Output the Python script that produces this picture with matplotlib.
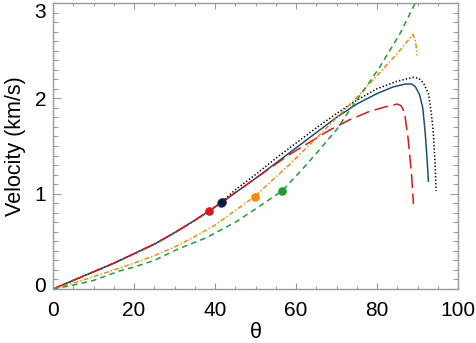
import matplotlib
matplotlib.use("Agg")
import matplotlib.pyplot as plt
import matplotlib.transforms as mtransforms
from matplotlib.ticker import MultipleLocator

plt.rcParams['font.family'] = ['Liberation Sans', 'DejaVu Sans']
plt.rcParams['lines.scale_dashes'] = False

# ---- data ----
common_x = [0, 5, 10, 15, 20, 25, 30, 35, 38.6]
common_y = [0, 0.09, 0.18, 0.27, 0.37, 0.47, 0.59, 0.72, 0.82]

blue_x = [38.6, 41.6, 45, 50, 55, 60, 65, 70, 75, 80, 84, 87, 88.6, 89.5, 90.5, 91.3, 91.9, 92.3, 92.7]
blue_y = [0.82, 0.905, 1.01, 1.16, 1.32, 1.48, 1.64, 1.80, 1.94, 2.05, 2.12, 2.15, 2.15, 2.12, 2.04, 1.90, 1.64, 1.40, 1.13]

black_x = [38.6, 41.6, 45, 50, 55, 60, 65, 70, 75, 80, 85, 89, 90.3, 91.5, 92.7, 93.4, 93.9, 94.3, 94.6]
black_y = [0.82, 0.91, 1.04, 1.20, 1.37, 1.53, 1.69, 1.84, 1.98, 2.10, 2.18, 2.22, 2.21, 2.16, 2.05, 1.85, 1.64, 1.35, 1.03]

red_x = [38.6, 42, 46, 51, 55, 58, 63, 68, 73, 78, 82, 85, 86, 86.8, 87.7, 88.5, 89.0]
red_y = [0.82, 0.92, 1.04, 1.19, 1.31, 1.40, 1.53, 1.66, 1.77, 1.86, 1.91, 1.94, 1.92, 1.85, 1.57, 1.22, 0.89]

orange_x = [0, 5, 10, 16.5, 20, 25, 30, 35, 40, 45.4, 49.8, 58.5, 65.9, 74.1, 80.7, 85, 88.9, 89.5, 89.9]
orange_y = [0, 0.06, 0.13, 0.22, 0.27, 0.35, 0.44, 0.55, 0.67, 0.836, 0.97, 1.31, 1.62, 1.97, 2.27, 2.47, 2.67, 2.60, 2.45]

green_x = [0, 5, 10, 16.5, 20, 25, 30.9, 38, 45.4, 50, 56.6, 61, 66, 70, 73.3, 77, 80.7, 85.7, 89.8, 90.3]
green_y = [0, 0.04, 0.09, 0.19, 0.23, 0.30, 0.42, 0.54, 0.71, 0.84, 1.03, 1.23, 1.47, 1.67, 1.88, 2.10, 2.33, 2.68, 3.03, 3.07]

dot_x = [38.6, 41.6, 41.7, 49.8, 56.6]
dot_y = [0.82, 0.905, 0.91, 0.97, 1.03]

c_blue = '#1d4e7c'
c_black = '#000000'
c_red = '#d7191c'
c_orange = '#ef8c0e'
c_green = '#1f9e32'
dot_colors = [c_red, c_blue, '#0a1f33', c_orange, c_green]

fig = plt.figure(figsize=(4.76, 3.43), dpi=100)
ax = fig.add_axes([53/476, 1 - 289/343, (458-53)/476, (289-3)/343])

lw = 1.1
ax.plot(common_x + black_x[1:], common_y + black_y[1:], color=c_black, lw=lw, dashes=(1.0, 1.5))
ax.plot(common_x + blue_x[1:], common_y + blue_y[1:], color=c_blue, lw=lw)
ax.plot(common_x + red_x[1:], common_y + red_y[1:], color=c_red, lw=lw, dashes=(10, 4))
ax.plot(orange_x, orange_y, color=c_orange, lw=lw, dashes=(3.5, 1.6, 1.0, 1.6))
ax.plot(green_x, green_y, color=c_green, lw=lw, dashes=(4, 3))

for x, y, c in zip(dot_x, dot_y, dot_colors):
    ax.plot([x], [y], 'o', color=c, ms=5.2, zorder=5)

ax.set_xlim(0, 100)
ax.set_ylim(0, 3)
ax.xaxis.set_major_locator(MultipleLocator(20))
ax.xaxis.set_minor_locator(MultipleLocator(5))
ax.yaxis.set_major_locator(MultipleLocator(1))
ax.yaxis.set_minor_locator(MultipleLocator(0.1))

gray = '#9a9a9a'
for s in ax.spines.values():
    s.set_color(gray)
    s.set_linewidth(1.0)
ax.tick_params(which='both', direction='in', top=True, right=True, color=gray, width=0.8,
               labelsize=15, labelcolor='black')
ax.tick_params(axis='x', which='major', length=4.3, pad=9)
ax.tick_params(axis='x', which='minor', length=2.0)
ax.tick_params(axis='y', which='major', length=6, pad=5)
ax.tick_params(axis='y', which='minor', length=3.4)

ax.set_xlabel('θ', fontsize=15.5, labelpad=1)
ax.set_ylabel('Velocity (km/s)', fontsize=15.5, labelpad=6)

# nudge end y-tick labels inward, as in the reference
fig.canvas.draw()
for lab in ax.get_yticklabels():
    t = lab.get_text().replace('\u2212', '-')
    if t == '0':
        lab.set_transform(lab.get_transform() + mtransforms.ScaledTranslation(0, 4/100, fig.dpi_scale_trans))
    elif t == '3':
        lab.set_transform(lab.get_transform() + mtransforms.ScaledTranslation(0, -7/100, fig.dpi_scale_trans))

fig.savefig('out.png', dpi=100)
